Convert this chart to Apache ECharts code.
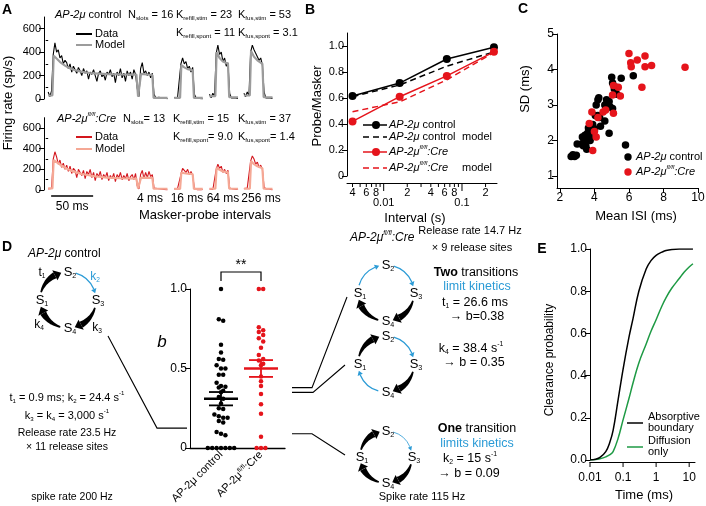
<!DOCTYPE html>
<html><head><meta charset="utf-8">
<script src="https://cdn.jsdelivr.net/npm/echarts@6/dist/echarts.min.js"></script>
<style>html,body{margin:0;padding:0;background:#fff}#c{width:706px;height:506px}</style>
</head><body><div id="c"></div>
<script>
// ================= DATA =================
// Panel A: firing rate (sp/s), 2-ms bins, per sweep segment (masker+4ms probe, 16ms, 64ms, 256ms probes)
const binMs = 2;
const ctrlMaskerRate = [60,20,70, 380,480,400,420,350,370,300,330,310,260, 300,230,280,250,220,270,240,200,260,220, 240,170,230,210,250,200,150,220,240,190, 210,160,230,210,250,190,220,140,230,200, 260,180,220,150,240,200,230,170,250,210, 90,20, 260,310,220,240,200,230,180,220, 40,10,0,15,0,5,0,10,0];
const ctrlProbe16Rate = [10,0,15,5,300,350,300,320,260,280,230,270,40,10,0,5,0,0];
const ctrlProbe64Rate = [40,10,50,20,390,460,380,400,320,350,280,310,50,10,0,10,0,5];
const ctrlProbe256Rate = [50,20,60,30,400,460,420,390,360,330,350,290,60,10,0,10,0,5];
const creMaskerRate = [10,20,15, 300,370,320,250,290,220,260,200,240,180, 230,160,210,190,120,200,170,140,190,110, 180,150,200,120,170,90,160,130,180,100, 150,120,170,90,140,110,160,80,150,120, 170,100,140,110,160,90,130,150,100,160, 40,10, 150,190,110,170,120,180,130,150, 20,5,15,0,10,0,5,10,0];
const creProbe16Rate = [10,0,15,5,150,210,190,170,200,150,180,140,20,5,0,10,0,5];
const creProbe64Rate = [10,20,5,15,200,250,210,230,170,200,160,190,20,5,10,0,5,10];
const creProbe256Rate = [15,5,20,10,280,330,300,250,270,220,240,200,30,10,0,10,5,0];
// model fits: [ms from segment start, sp/s]
const ctrlMaskerModel = [[0,30],[5,30],[6.5,370],[10,345],[15,310],[20,285],[25,265],[30,250],[40,232],[50,222],[60,216],[70,212],[85,210],[105,208],[107,20],[109,20],[110.5,215],[124,205],[125.5,10],[142,10]];
const ctrlProbe16Model = [[0,10],[7,10],[8.5,290],[12,270],[16,255],[22,245],[23.5,10],[34,10]];
const ctrlProbe64Model = [[0,25],[7,25],[8.5,400],[12,350],[16,320],[22,300],[23.5,15],[34,15]];
const ctrlProbe256Model = [[0,30],[7,30],[8.5,410],[12,360],[16,330],[22,300],[23.5,15],[34,15]];
const creMaskerModel = [[0,15],[5,15],[6.5,290],[10,270],[15,240],[20,215],[25,195],[30,178],[40,155],[50,140],[60,128],[70,120],[85,114],[105,110],[107,15],[109,15],[110.5,120],[124,118],[125.5,12],[142,12]];
const creProbe16Model = [[0,10],[7,10],[8.5,170],[12,162],[16,158],[22,155],[23.5,10],[34,10]];
const creProbe64Model = [[0,12],[7,12],[8.5,215],[12,195],[16,180],[22,172],[23.5,12],[34,12]];
const creProbe256Model = [[0,12],[7,12],[8.5,280],[12,250],[16,230],[22,210],[23.5,12],[34,12]];
const rateTicks = [0,200,400,600];
const rateMinorTicks = [100,300,500];
const intervalLabels = ['4 ms','16 ms','64 ms','256 ms'];

// Panel B
const intervalsS = [0.004, 0.016, 0.064, 0.256];
const ctrlRatio = [0.615, 0.715, 0.90, 0.99];
const ctrlModelRatio = [0.61, 0.70, 0.845, 0.955];
const creRatio = [0.42, 0.61, 0.77, 0.955];
const creModelRatio = [0.495, 0.57, 0.74, 0.95];
const bMajorTicks = [0.01, 0.1];
const bMajorLabels = ['0.01','0.1'];
const bMinorTicks = [0.004,0.005,0.006,0.007,0.008,0.009,0.02,0.03,0.04,0.05,0.06,0.07,0.08,0.09,0.2];
const bMinorLabels = ['4','','6','','8','','2','','4','','6','','8','','2'];
const ratioTicks = [0,0.2,0.4,0.6,0.8,1.0];

// Panel C: mean ISI (ms), SD (ms)
const ctrlISI = [2.65,2.75,2.85,2.95,3.0,3.25,3.3,3.4,3.45,3.5,3.55,3.6,3.6,3.7,3.7,3.75,3.8,3.85,3.9,3.95,4.0,4.05,4.1,4.2,4.25,4.2,4.3,4.35,4.6,4.6,4.7,4.75,4.85,4.9,4.85,5.05,5.0,5.05,5.15,5.25,5.3,5.55,5.8,6.25,3.35,3.65];
const ctrlSD  = [1.55,1.6,1.55,1.58,1.9,1.9,2.1,2.0,2.15,1.85,1.75,2.2,2.05,2.3,2.1,2.0,2.4,2.25,2.45,2.35,2.3,2.7,3.0,3.15,3.2,2.7,2.65,2.4,2.55,3.0,3.15,3.05,3.1,2.95,2.2,2.9,3.78,3.62,3.45,3.5,3.3,3.75,1.87,3.82,1.85,2.35];
const creISI = [3.85,3.9,4.0,4.1,3.7,4.2,4.5,4.65,5.05,5.1,5.38,5.5,5.1,6.0,6.1,6.13,6.48,6.93,6.93,7.31,6.75,9.25];
const creSD  = [2.8,1.72,2.25,2.1,2.48,2.65,2.8,2.86,3.28,2.77,3.5,3.25,3.55,4.45,4.19,4.08,4.27,4.38,4.08,4.11,3.5,4.06];
const isiTicks = [2,4,6,8,10];
const sdTicks = [1,2,3,4,5];

// Panel D: b values
const bControl = [1.0,0.81,0.8,0.65,0.6,0.56,0.555,0.52,0.5,0.5,0.46,0.46,0.41,0.39,0.385,0.38,0.36,0.35,0.32,0.31,0.28,0.25,0.245,0.21,0.2,0.19,0.19,0.17,0.16,0.1,0.09,0.08,0,0,0,0,0,0,0];
const bCre = [1.0,1.0,0.76,0.74,0.73,0.71,0.69,0.67,0.63,0.585,0.56,0.55,0.53,0.52,0.45,0.42,0.39,0.34,0.275,0.215,0.07,0,0,0];
const bCtrlMean = 0.31, bCtrlSem = 0.042;
const bCreMean = 0.50, bCreSem = 0.053;
const bModelControl = 0.125, bModelTwoA = 0.38, bModelTwoB = 0.35, bModelOne = 0.09;
const bTicks = [0, 0.5, 1.0];

// Panel E
const eTime = [0.01,0.015,0.02,0.03,0.04,0.05,0.07,0.1,0.15,0.2,0.3,0.5,0.7,1,1.5,2,3,5,7,10,13];
const eAbsorb = [0,0.004,0.012,0.04,0.085,0.14,0.28,0.43,0.58,0.67,0.80,0.905,0.945,0.97,0.985,0.993,0.998,1.0,1.0,1.0,1.0];
const eDiff = [0,0.002,0.006,0.015,0.025,0.04,0.10,0.19,0.29,0.365,0.46,0.55,0.61,0.665,0.73,0.77,0.815,0.86,0.89,0.915,0.93];
const eTicks = [0.01,0.1,1,10];
const eTickLabels = ['0.01','0.1','1','10'];
const probTicks = [0,0.2,0.4,0.6,0.8,1.0];

// ================= STYLE / LAYOUT =================
const FONT = '"Liberation Sans", Arial, Helvetica, sans-serif';
const RED = '#e5141b', BLUE = '#2b9bd6', GREEN = '#1e9a44';
const CRE_DATA = '#d3161d', CRE_MODEL = '#f5a895', CTRL_MODEL = '#9c9c9c';
const segStart = [0, 150, 192, 233];

function R(fs) {
  const H = fs + 6, s = Math.round(fs * 0.55 * 10) / 10;
  const base = {fontFamily: FONT, fontSize: fs, lineHeight: fs, padding: [3,0,3,0]};
  const subPt = 3 + fs/2 + 0.28*fs - s/2, supPt = Math.max(0, 3 + fs/2 - 0.4*fs - s/2);
  const sb = {fontFamily: FONT, fontSize: s, lineHeight: s};
  return {
    n: base,
    i: Object.assign({}, base, {fontStyle: 'italic'}),
    b: Object.assign({}, base, {fontWeight: 'bold'}),
    bl: Object.assign({}, base, {fill: BLUE, color: BLUE}),
    sub: Object.assign({}, sb, {padding: [subPt,0,H-s-subPt,0]}),
    sbl: Object.assign({}, sb, {padding: [subPt,0,H-s-subPt,0], fill: BLUE, color: BLUE}),
    sup: Object.assign({}, sb, {padding: [supPt,0,H-s-supPt,0]}),
    si: Object.assign({}, sb, {fontStyle: 'italic', padding: [supPt,0,H-s-supPt,0]})
  };
}
function T(x, y, text, o) {
  o = o || {};
  const fs = o.fs || 11;
  return {type: 'text', x: x, y: y, rotation: o.rot || 0, z: 50, silent: true,
    style: {text: text, fill: o.color || '#000', fontFamily: FONT, fontSize: fs,
      fontWeight: o.bold ? 'bold' : 'normal', fontStyle: o.italic ? 'italic' : 'normal',
      align: o.align || 'left', verticalAlign: 'middle', rich: R(fs)}};
}
function L(x1, y1, x2, y2, color, w, dash) {
  return {type: 'line', z: 50, silent: true, shape: {x1, y1, x2, y2}, style: {stroke: color || '#000', lineWidth: w || 1, lineDash: dash || null}};
}
function PL(points, color, w) {
  return {type: 'polyline', z: 50, silent: true, shape: {points}, style: {stroke: color || '#000', lineWidth: w || 1, fill: null}};
}
function cycle(cx, cy, r, kinds) {
  const els = [];
  const st = [180, 270, 360, 450];
  const rad = a => a * Math.PI / 180;
  const P = (a, rr) => [cx + rr * Math.cos(rad(a)), cy + rr * Math.sin(rad(a))];
  for (let i = 0; i < 4; i++) {
    const a0 = st[i] + 16, a1 = st[i] + 90 - 14, kind = kinds[i];
    if (kind === 'thick') {
      const aB = a1 - 14, outer = [], inner = [], N = 16;
      for (let k = 0; k <= N; k++) {
        const s = k / N, a = a0 + (aB - a0) * s, w = 1.6 + s * 5;
        outer.push(P(a, r + w/2)); inner.push(P(a, r - w/2));
      }
      els.push({type: 'polygon', z: 40, silent: true, shape: {points: outer.concat(inner.reverse())}, style: {fill: '#000'}});
      els.push({type: 'polygon', z: 40, silent: true, shape: {points: [P(aB, r + 5.6), P(a1, r), P(aB, r - 5.6)]}, style: {fill: '#000'}});
    } else {
      const lw = kind === 'blueThin' ? 0.8 : 1.3, aB = a1 - 9, hw = kind === 'blueThin' ? 2.2 : 2.8;
      els.push({type: 'arc', z: 40, silent: true, shape: {cx, cy, r, startAngle: rad(a0), endAngle: rad(aB), clockwise: true}, style: {stroke: BLUE, lineWidth: lw, fill: null}});
      els.push({type: 'polygon', z: 40, silent: true, shape: {points: [P(aB, r + hw), P(a1, r), P(aB, r - hw)]}, style: {fill: BLUE}});
    }
  }
  const lab = ['1','2','3','4'];
  for (let i = 0; i < 4; i++) {
    const p = P(st[i], r);
    els.push(T(p[0] + 2, p[1], '{n|S}{sub|' + lab[i] + '}', {fs: 13, align: 'center'}));
  }
  return els;
}

const axLine = {show: true, onZero: false, lineStyle: {color: '#000', width: 1}};
function yAx(grid, min, max, ticks, fmt, fs, len) {
  return {gridIndex: grid, type: 'value', min, max, position: 'left',
    axisLine: axLine, splitLine: {show: false},
    axisTick: {show: true, length: len || 5, customValues: ticks, lineStyle: {color: '#000'}},
    axisLabel: {show: true, customValues: ticks, color: '#000', fontFamily: FONT, fontSize: fs || 11, margin: 3, formatter: fmt}};
}
function yMinor(grid, min, max, ticks) {
  return {gridIndex: grid, type: 'value', min, max, position: 'left',
    axisLine: {show: false}, splitLine: {show: false}, axisLabel: {show: false},
    axisTick: {show: true, length: 2.5, customValues: ticks, lineStyle: {color: '#000'}}};
}

// ---------- build series ----------
const series = [];
function sweepSeries(arrs, xi, color, w, z) {
  arrs.forEach((a, k) => series.push({type: 'line', xAxisIndex: xi, yAxisIndex: xi, showSymbol: false, symbol: 'none', z: z,
    data: a.map((v, i) => [segStart[k] + i * binMs, v]), lineStyle: {color, width: w}, animation: false, silent: true}));
}
function modelSeries(arrs, xi, color, w, z) {
  arrs.forEach((a, k) => series.push({type: 'line', xAxisIndex: xi, yAxisIndex: xi, showSymbol: false, symbol: 'none', z: z,
    data: a.map(p => [segStart[k] + p[0], p[1]]), lineStyle: {color, width: w}, animation: false, silent: true}));
}
sweepSeries([ctrlMaskerRate, ctrlProbe16Rate, ctrlProbe64Rate, ctrlProbe256Rate], 0, '#000', 1.1, 3);
modelSeries([ctrlMaskerModel, ctrlProbe16Model, ctrlProbe64Model, ctrlProbe256Model], 0, CTRL_MODEL, 2.2, 4);
sweepSeries([creMaskerRate, creProbe16Rate, creProbe64Rate, creProbe256Rate], 1, CRE_DATA, 1.1, 3);
modelSeries([creMaskerModel, creProbe16Model, creProbe64Model, creProbe256Model], 1, CRE_MODEL, 2.2, 4);

// Panel B
const zipB = arr => intervalsS.map((t, i) => [t, arr[i]]);
series.push({type: 'line', xAxisIndex: 2, yAxisIndex: 2, data: zipB(ctrlModelRatio), symbol: 'none', lineStyle: {color: '#000', width: 1.5, type: [6,4]}, z: 3});
series.push({type: 'line', xAxisIndex: 2, yAxisIndex: 2, data: zipB(creModelRatio), symbol: 'none', lineStyle: {color: RED, width: 1.5, type: [6,4]}, z: 3});
series.push({type: 'line', xAxisIndex: 2, yAxisIndex: 2, data: zipB(ctrlRatio), symbol: 'circle', symbolSize: 8, itemStyle: {color: '#000'}, lineStyle: {color: '#000', width: 1.5}, z: 4});
series.push({type: 'line', xAxisIndex: 2, yAxisIndex: 2, data: zipB(creRatio), symbol: 'circle', symbolSize: 8, itemStyle: {color: RED}, lineStyle: {color: RED, width: 1.5}, z: 4});
function logTickSeries(xi, yi, vals, labels, tickLen, axisOff, labelDy, fs) {
  return {type: 'custom', xAxisIndex: xi, yAxisIndex: yi, clip: false, silent: true, z: 5,
    data: vals.map(v => [v, 0]),
    renderItem: function (params, api) {
      const p = api.coord([api.value(0), 0]);
      const y = p[1] + axisOff;
      const ch = [{type: 'line', shape: {x1: p[0], y1: y, x2: p[0], y2: y + tickLen}, style: {stroke: '#000', lineWidth: 1}}];
      const lab = labels[params.dataIndex];
      if (lab) ch.push({type: 'text', style: {text: lab, x: p[0], y: y + labelDy, align: 'center', verticalAlign: 'middle', fontFamily: FONT, fontSize: fs, fill: '#000'}});
      return {type: 'group', children: ch};
    }};
}
series.push(logTickSeries(2, 2, bMinorTicks, bMinorLabels, 4, 7, 10, 11));
series.push(logTickSeries(2, 2, bMajorTicks, bMajorLabels, 8, 7, 20, 11));

// Panel C
series.push({type: 'scatter', xAxisIndex: 3, yAxisIndex: 3, data: ctrlISI.map((x, i) => [x, ctrlSD[i]]), symbolSize: 7.5, itemStyle: {color: '#000', opacity: 1}, z: 3});
series.push({type: 'scatter', xAxisIndex: 3, yAxisIndex: 3, data: creISI.map((x, i) => [x, creSD[i]]), symbolSize: 7.5, itemStyle: {color: RED, opacity: 1}, z: 4});

// Panel D
function swarm(vals, cat, step) {
  const s = vals.slice().sort((a, b) => b - a), out = [];
  let i = 0;
  while (i < s.length) {
    let j = i;
    while (j + 1 < s.length && s[i] - s[j + 1] < 0.025) j++;
    const n = j - i + 1;
    for (let k = 0; k < n; k++) out.push([cat + (k - (n - 1) / 2) * step, s[i + k]]);
    i = j + 1;
  }
  return out;
}
series.push({type: 'scatter', xAxisIndex: 4, yAxisIndex: 4, data: swarm(bControl, 1, 0.11), symbolSize: 4.5, itemStyle: {color: '#000', opacity: 1}, z: 3});
series.push({type: 'scatter', xAxisIndex: 4, yAxisIndex: 4, data: swarm(bCre, 2, 0.11), symbolSize: 4.5, itemStyle: {color: RED, opacity: 1}, z: 3});
series.push({type: 'custom', xAxisIndex: 4, yAxisIndex: 4, clip: false, silent: true, z: 5,
  data: [[1, bCtrlMean, bCtrlSem], [2, bCreMean, bCreSem]],
  renderItem: function (params, api) {
    const cat = api.value(0), m = api.value(1), e = api.value(2);
    const c = api.coord([cat, m]), hi = api.coord([cat, m + e]), lo = api.coord([cat, m - e]);
    const col = params.dataIndex === 0 ? '#000' : RED;
    const st = w => ({stroke: col, lineWidth: w});
    return {type: 'group', children: [
      {type: 'line', shape: {x1: c[0] - 17, y1: c[1], x2: c[0] + 17, y2: c[1]}, style: st(2.4)},
      {type: 'line', shape: {x1: c[0] - 12, y1: hi[1], x2: c[0] + 12, y2: hi[1]}, style: st(1.8)},
      {type: 'line', shape: {x1: c[0] - 12, y1: lo[1], x2: c[0] + 12, y2: lo[1]}, style: st(1.8)},
      {type: 'line', shape: {x1: c[0], y1: hi[1], x2: c[0], y2: lo[1]}, style: st(1.8)}
    ]};
  }});

// Panel E
series.push({type: 'line', xAxisIndex: 5, yAxisIndex: 5, data: eTime.map((t, i) => [t, eDiff[i]]), symbol: 'none', smooth: 0.4, lineStyle: {color: GREEN, width: 1.5}, z: 3});
series.push({type: 'line', xAxisIndex: 5, yAxisIndex: 5, data: eTime.map((t, i) => [t, eAbsorb[i]]), symbol: 'none', smooth: 0.4, lineStyle: {color: '#000', width: 1.5}, z: 3});
series.push(logTickSeries(5, 5, eTicks, eTickLabels, 5, 2, 16, 12));

const gridBase = {containLabel: false, outerBoundsMode: 'none', show: false};
const option = {
  animation: false,
  backgroundColor: '#fff',
  grid: [
    Object.assign({left: 44, top: 17, width: 231, height: 82}, gridBase),
    Object.assign({left: 44, top: 117.7, width: 231, height: 72.3}, gridBase),
    Object.assign({left: 347, top: 33, width: 150, height: 143}, gridBase),
    Object.assign({left: 557, top: 34, width: 141, height: 154}, gridBase),
    Object.assign({left: 190, top: 289, width: 95, height: 159}, gridBase),
    Object.assign({left: 590, top: 249, width: 105, height: 211}, gridBase)
  ],
  xAxis: [
    {gridIndex: 0, type: 'value', min: -5, max: 270, show: false},
    {gridIndex: 1, type: 'value', min: -5, max: 270, show: false},
    {gridIndex: 2, type: 'log', logBase: 10, min: 0.0034, max: 0.28, offset: 7, axisLine: axLine, axisTick: {show: false}, axisLabel: {show: false}, splitLine: {show: false}},
    {gridIndex: 3, type: 'value', min: 1.83, max: 10, axisLine: axLine, splitLine: {show: false},
      axisTick: {show: true, length: 5, customValues: isiTicks, lineStyle: {color: '#000'}},
      axisLabel: {show: true, customValues: isiTicks, color: '#000', fontFamily: FONT, fontSize: 12, margin: 4}},
    {gridIndex: 4, type: 'value', min: 0.225, max: 2.6, axisLine: {show: true, onZero: false, lineStyle: {color: '#000', width: 1.3}}, splitLine: {show: false},
      axisTick: {show: false},
      axisLabel: {show: true, customValues: [1, 2], rotate: 45, margin: 5, color: '#000', fontFamily: FONT, fontSize: 11,
        formatter: v => v === 1 ? '{n|AP-2μ control}' : '{n|AP-2μ}{sup|fl/fl}{n|:Cre}',
        rich: {n: {fontFamily: FONT, fontSize: 11, color: '#000'}, sup: {fontFamily: FONT, fontSize: 6.5, color: '#000', verticalAlign: 'top', padding: [0,0,6,0]}}}},
    {gridIndex: 5, type: 'log', logBase: 10, min: 0.01, max: 15, offset: 2, axisLine: axLine, axisTick: {show: false}, axisLabel: {show: false}, splitLine: {show: false}}
  ],
  yAxis: [
    yAx(0, 0, 700, rateTicks, null, 11, 5),
    yAx(1, 0, 700, rateTicks, null, 11, 5),
    yAx(2, 0, 1.1, ratioTicks, v => v === 0 ? '0' : v.toFixed(1), 11, 5),
    yAx(3, 0.66, 5, sdTicks, null, 12, 5),
    yAx(4, 0, 1, bTicks, v => v === 0 ? '0' : v.toFixed(1), 12, 5),
    yAx(5, 0, 1, probTicks, v => v.toFixed(1), 12, 5),
    yMinor(0, 0, 700, rateMinorTicks),
    yMinor(1, 0, 700, rateMinorTicks)
  ],
  series: series
};

const chart = echarts.init(document.getElementById('c'), null, {renderer: 'canvas', width: 706, height: 506});
chart.setOption(option);

// ---------- annotations ----------
const g = [];
const px = (grid, pt) => chart.convertToPixel({gridIndex: grid}, pt);
[['A',7,10],['B',310,10],['C',523,9],['D',7,247],['E',542,249]].forEach(a => g.push(T(a[1], a[2], a[0], {fs: 14, bold: true, align: 'center'})));

// ---- Panel A ----
g.push(T(8, 103, 'Firing rate (sp/s)', {fs: 13, rot: Math.PI / 2, align: 'center'}));
g.push(T(55, 15, '{i|AP-2μ}{n| control}'));
g.push(T(128, 15, '{n|N}{sub|slots}{n| = 16}'));
g.push(T(176, 15, '{n|K}{sub|refill,stim}{n| = 23}'));
g.push(T(238, 15, '{n|K}{sub|fus,stim}{n| = 53}'));
g.push(T(176, 33, '{n|K}{sub|refill,spont}{n| = 11}'));
g.push(T(238, 33, '{n|K}{sub|fus,spont}{n| = 3.1}'));
g.push(L(76, 34, 92, 34, '#000', 2)); g.push(T(95, 34, 'Data'));
g.push(L(76, 45, 92, 45, CTRL_MODEL, 2)); g.push(T(95, 45, 'Model'));
g.push(T(57, 119, '{i|AP-2μ}{si|fl/fl}{i|:Cre}'));
g.push(T(123, 119, '{n|N}{sub|slots}{n|= 13}'));
g.push(T(173, 119, '{n|K}{sub|refill,stim}{n| = 15}'));
g.push(T(238, 119, '{n|K}{sub|fus,stim}{n| = 37}'));
g.push(T(173, 137, '{n|K}{sub|refill,spont}{n|= 9.0}'));
g.push(T(238, 137, '{n|K}{sub|fus,spont}{n|= 1.4}'));
g.push(L(76, 137, 92, 137, CRE_DATA, 2)); g.push(T(95, 137, 'Data'));
g.push(L(76, 149, 92, 149, CRE_MODEL, 2)); g.push(T(95, 149, 'Model'));
const sb0 = px(1, [3.5, 0]), sb1 = px(1, [53.5, 0]);
g.push(L(sb0[0], 196, sb1[0], 196, '#000', 1.5));
g.push(T((sb0[0] + sb1[0]) / 2, 207, '50 ms', {fs: 12, align: 'center'}));
[150, 187, 223, 261].forEach((x, i) => g.push(T(x, 199, intervalLabels[i], {fs: 12, align: 'center'})));
g.push(T(205, 215, 'Masker-probe intervals', {fs: 13, align: 'center'}));

// ---- Panel B ----
g.push(T(317, 106, 'Probe/Masker', {fs: 13, rot: Math.PI / 2, align: 'center'}));
g.push(T(415, 218, 'Interval (s)', {fs: 13, align: 'center'}));
g.push(L(363, 125, 387, 125, '#000', 1.5)); g.push({type: 'circle', z: 50, shape: {cx: 376, cy: 125, r: 4}, style: {fill: '#000'}});
g.push(T(389, 125, '{i|AP-2μ}{n| control}'));
g.push(L(363, 137, 387, 137, '#000', 1.5, [6, 4])); g.push(T(389, 137, '{i|AP-2μ}{n| control}')); g.push(T(462, 137, 'model'));
g.push(L(363, 152, 387, 152, RED, 1.5)); g.push({type: 'circle', z: 50, shape: {cx: 376, cy: 152, r: 4}, style: {fill: RED}});
g.push(T(389, 152, '{i|AP-2μ}{si|fl/fl}{i|:Cre}'));
g.push(L(363, 168, 387, 168, RED, 1.5, [6, 4])); g.push(T(389, 168, '{i|AP-2μ}{si|fl/fl}{i|:Cre}')); g.push(T(462, 168, 'model'));

// ---- Panel C ----
g.push(T(525, 89, 'SD (ms)', {fs: 13, rot: Math.PI / 2, align: 'center'}));
g.push(T(636, 216, 'Mean ISI (ms)', {fs: 13, align: 'center'}));
g.push({type: 'circle', z: 50, shape: {cx: 628, cy: 157, r: 3.7}, style: {fill: '#000'}});
g.push(T(636, 157, '{i|AP-2μ}{n| control}'));
g.push({type: 'circle', z: 50, shape: {cx: 628, cy: 172, r: 3.7}, style: {fill: RED}});
g.push(T(636, 172, '{i|AP-2μ}{si|fl/fl}{i|:Cre}'));

// ---- Panel D ----
g.push(T(28, 254, '{i|AP-2μ}{n| control}', {fs: 12}));
cycle(68, 300, 28, ['thick', 'blue', 'thick', 'thick']).forEach(e => g.push(e));
g.push(T(42, 273, '{n|t}{sub|1}', {fs: 12, align: 'center'}));
g.push(T(95, 277, '{bl|k}{sbl|2}', {fs: 12, align: 'center'}));
g.push(T(39, 325, '{n|k}{sub|4}', {fs: 12, align: 'center'}));
g.push(T(97, 328, '{n|k}{sub|3}', {fs: 12, align: 'center'}));
g.push(T(67, 398, '{n|t}{sub|1}{n| = 0.9 ms; k}{sub|2}{n| = 24.4 s}{sup|-1}', {align: 'center'}));
g.push(T(67, 416, '{n|k}{sub|3}{n| = k}{sub|4}{n| = 3,000 s}{sup|-1}', {align: 'center'}));
g.push(T(67, 433, 'Release rate 23.5 Hz', {fs: 10.5, align: 'center'}));
g.push(T(67, 447, '× 11 release sites', {fs: 10.5, align: 'center'}));
g.push(T(72, 497, 'spike rate 200 Hz', {fs: 10.5, align: 'center'}));
g.push(T(162, 342, 'b', {fs: 17, italic: true, align: 'center'}));
const c1 = px(4, [1, 1]), c2 = px(4, [2, 1]);
const bt = c1[1] - 17;
g.push(PL([[c1[0], bt + 9], [c1[0], bt], [c2[0], bt], [c2[0], bt + 9]], '#000', 1.2));
g.push(T((c1[0] + c2[0]) / 2, bt - 7, '**', {fs: 14, align: 'center'}));
const yb = b => px(4, [1, b])[1];
g.push(PL([[108, 336], [157, yb(bModelControl)], [187, yb(bModelControl)]], '#000', 1.1));
g.push(PL([[292, yb(bModelTwoA)], [312, yb(bModelTwoA)], [347, 297]], '#000', 1.1));
g.push(PL([[292, yb(bModelTwoB)], [313, yb(bModelTwoB)], [345, 365]], '#000', 1.1));
g.push(PL([[292, yb(bModelOne)], [312, yb(bModelOne)], [345, 455]], '#000', 1.1));
g.push(T(350, 238, '{i|AP-2μ}{si|fl/fl}{i|:Cre}', {fs: 12}));
g.push(T(470, 231, 'Release rate 14.7 Hz', {fs: 11, align: 'center'}));
g.push(T(472, 248, '× 9 release sites', {fs: 11, align: 'center'}));
cycle(386, 293, 28, ['blue', 'blue', 'thick', 'thick']).forEach(e => g.push(e));
cycle(386, 364, 28, ['thick', 'blue', 'thick', 'blue']).forEach(e => g.push(e));
cycle(386, 457, 26, ['thick', 'blueThin', 'thick', 'thick']).forEach(e => g.push(e));
g.push(T(476, 273, '{b|Two}{n| transitions}', {fs: 12.5, align: 'center'}));
g.push(T(477, 287, 'limit kinetics', {fs: 12.5, align: 'center', color: BLUE}));
g.push(T(475, 303, '{n|t}{sub|1}{n| = 26.6 ms}', {fs: 12.5, align: 'center'}));
g.push(T(477, 317, '→ b=0.38', {fs: 12.5, align: 'center'}));
g.push(T(471, 349, '{n|k}{sub|4}{n| = 38.4 s}{sup|-1}', {fs: 12.5, align: 'center'}));
g.push(T(474, 363, '→ b = 0.35', {fs: 12.5, align: 'center'}));
g.push(T(477, 429, '{b|One}{n| transition}', {fs: 12.5, align: 'center'}));
g.push(T(477, 444, 'limits kinetics', {fs: 12.5, align: 'center', color: BLUE}));
g.push(T(470, 459, '{n|k}{sub|2}{n| = 15 s}{sup|-1}', {fs: 12.5, align: 'center'}));
g.push(T(469, 474, '→ b = 0.09', {fs: 12.5, align: 'center'}));
g.push(T(422, 497, 'Spike rate 115 Hz', {fs: 11, align: 'center'}));

// ---- Panel E ----
g.push(T(550, 360, 'Clearance probability', {fs: 12, rot: Math.PI / 2, align: 'center'}));
g.push(T(644, 495, 'Time (ms)', {fs: 13, align: 'center'}));
g.push(L(627, 423, 643, 423, '#000', 1.5));
g.push(T(648, 417, 'Absorptive')); g.push(T(648, 428, 'boundary'));
g.push(L(627, 447, 643, 447, GREEN, 1.5));
g.push(T(648, 441, 'Diffusion')); g.push(T(648, 452, 'only'));

chart.setOption({graphic: g});
</script>
</body></html>
